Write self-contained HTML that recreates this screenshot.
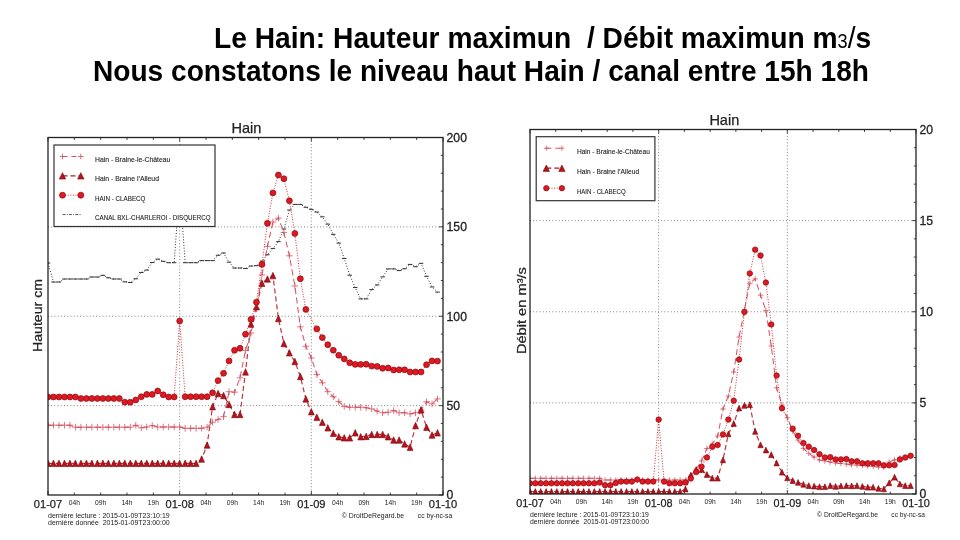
<!DOCTYPE html>
<html><head><meta charset="utf-8"><style>
html,body{margin:0;padding:0;background:#fff;}
body{width:960px;height:540px;overflow:hidden;position:relative;font-family:"Liberation Sans",sans-serif;}
.t{position:absolute;font-weight:bold;font-size:28px;color:#000;white-space:nowrap;line-height:1;}
svg{position:absolute;left:0;top:0;filter:blur(0.35px);}
svg text{font-family:"Liberation Sans",sans-serif;fill:#222;}
svg circle{fill:#e01822;stroke:#8a0c10;stroke-width:0.7;}
</style></head><body>
<div class="t" id="t1" style="left:213.5px;top:23.1px;transform:scale(1.007,1.08);transform-origin:0 0;">Le Hain: Hauteur maximun&#160; / Débit maximun m<span style="font-size:18px;font-weight:normal">3</span><span style="font-weight:normal">/</span>s</div>
<div class="t" id="t2" style="left:93px;top:56.1px;transform:scale(1.0034,1.08);transform-origin:0 0;">Nous constatons le niveau haut Hain / canal entre 15h 18h</div>
<svg width="960" height="540" viewBox="0 0 960 540">
<clipPath id="cl"><rect x="48" y="137.5" width="395" height="357.5"/></clipPath>
<path d="M179.67,137.5 V495 M311.33,137.5 V495 M48,405.62 H443 M48,316.25 H443 M48,226.88 H443" stroke="#777" stroke-width="0.9" stroke-dasharray="1 2.2" fill="none"/>
<path d="M48,137.5 v4 M48,495 v-4 M74.33,137.5 v2.5 M74.33,495 v-2.5 M100.67,137.5 v2.5 M100.67,495 v-2.5 M127,137.5 v2.5 M127,495 v-2.5 M153.33,137.5 v2.5 M153.33,495 v-2.5 M179.67,137.5 v4 M179.67,495 v-4 M206,137.5 v2.5 M206,495 v-2.5 M232.33,137.5 v2.5 M232.33,495 v-2.5 M258.67,137.5 v2.5 M258.67,495 v-2.5 M285,137.5 v2.5 M285,495 v-2.5 M311.33,137.5 v4 M311.33,495 v-4 M337.67,137.5 v2.5 M337.67,495 v-2.5 M364,137.5 v2.5 M364,495 v-2.5 M390.33,137.5 v2.5 M390.33,495 v-2.5 M416.67,137.5 v2.5 M416.67,495 v-2.5 M443,137.5 v4 M443,495 v-4 M443,495 h-4 M443,405.62 h-4 M443,316.25 h-4 M443,226.88 h-4 M443,137.5 h-4 M443,477.12 h-2.2 M443,459.25 h-2.2 M443,441.38 h-2.2 M443,423.5 h-2.2 M443,387.75 h-2.2 M443,369.88 h-2.2 M443,352 h-2.2 M443,334.12 h-2.2 M443,298.38 h-2.2 M443,280.5 h-2.2 M443,262.62 h-2.2 M443,244.75 h-2.2 M443,209 h-2.2 M443,191.12 h-2.2 M443,173.25 h-2.2 M443,155.38 h-2.2" stroke="#333" stroke-width="0.9" fill="none"/>
<g clip-path="url(#cl)">
<path d="M48,263 L53.49,282 L58.97,282 L64.46,279 L69.94,279 L75.43,279 L80.92,279 L86.4,279 L91.89,277 L97.38,277 L102.86,275.3 L108.35,277.82 L113.83,279 L119.32,279 L124.81,281.85 L130.29,282.52 L135.78,278.79 L141.26,272.46 L146.75,270.11 L152.24,262.54 L157.72,259.1 L163.21,261.34 L168.69,262.7 L174.18,262.7 L179.67,185 L185.15,262.7 L190.64,262.7 L196.12,262.7 L201.61,260.6 L207.1,260.6 L212.58,260.6 L218.07,255.25 L223.56,252.99 L229.04,262.14 L234.53,268 L240.01,268 L245.5,268.56 L250.99,266.02 L256.47,265.68 L261.96,261.05 L267.44,254.74 L272.93,248.43 L278.42,241.6 L283.9,228.98 L289.39,210.02 L294.88,204.4 L300.36,204.4 L305.85,207.26 L311.33,209.36 L316.82,212.05 L322.31,216.84 L327.79,224.13 L333.28,234.36 L338.76,243.08 L344.25,258.47 L349.74,275.17 L355.22,287.55 L360.71,298.9 L366.19,298.9 L371.68,289.51 L377.17,284.93 L382.65,276.9 L388.14,268.9 L393.62,268.9 L399.11,270.58 L404.6,268.74 L410.08,264.43 L415.57,266.69 L421.06,263.33 L426.54,276.32 L432.03,286.96 L437.51,292.11" stroke="#333" stroke-width="1" stroke-dasharray="1 1.8" fill="none"/>
<path d="M45.75,263 h4.5 M51.24,282 h4.5 M56.72,282 h4.5 M62.21,279 h4.5 M67.69,279 h4.5 M73.18,279 h4.5 M78.67,279 h4.5 M84.15,279 h4.5 M89.64,277 h4.5 M95.12,277 h4.5 M100.61,275.3 h4.5 M106.1,277.82 h4.5 M111.58,279 h4.5 M117.07,279 h4.5 M122.56,281.85 h4.5 M128.04,282.52 h4.5 M133.53,278.79 h4.5 M139.01,272.46 h4.5 M144.5,270.11 h4.5 M149.99,262.54 h4.5 M155.47,259.1 h4.5 M160.96,261.34 h4.5 M166.44,262.7 h4.5 M171.93,262.7 h4.5 M177.42,185 h4.5 M182.9,262.7 h4.5 M188.39,262.7 h4.5 M193.88,262.7 h4.5 M199.36,260.6 h4.5 M204.85,260.6 h4.5 M210.33,260.6 h4.5 M215.82,255.25 h4.5 M221.31,252.99 h4.5 M226.79,262.14 h4.5 M232.28,268 h4.5 M237.76,268 h4.5 M243.25,268.56 h4.5 M248.74,266.02 h4.5 M254.22,265.68 h4.5 M259.71,261.05 h4.5 M265.19,254.74 h4.5 M270.68,248.43 h4.5 M276.17,241.6 h4.5 M281.65,228.98 h4.5 M287.14,210.02 h4.5 M292.62,204.4 h4.5 M298.11,204.4 h4.5 M303.6,207.26 h4.5 M309.08,209.36 h4.5 M314.57,212.05 h4.5 M320.06,216.84 h4.5 M325.54,224.13 h4.5 M331.03,234.36 h4.5 M336.51,243.08 h4.5 M342,258.47 h4.5 M347.49,275.17 h4.5 M352.97,287.55 h4.5 M358.46,298.9 h4.5 M363.94,298.9 h4.5 M369.43,289.51 h4.5 M374.92,284.93 h4.5 M380.4,276.9 h4.5 M385.89,268.9 h4.5 M391.38,268.9 h4.5 M396.86,270.58 h4.5 M402.35,268.74 h4.5 M407.83,264.43 h4.5 M413.32,266.69 h4.5 M418.81,263.33 h4.5 M424.29,276.32 h4.5 M429.78,286.96 h4.5 M435.26,292.11 h4.5" stroke="#333" stroke-width="1" fill="none"/>
<path d="M48,425.2 L53.49,425.2 L58.97,425.2 L64.46,425.2 L69.94,425.2 L75.43,427.2 L80.92,427.2 L86.4,427.2 L91.89,427.2 L97.38,427.2 L102.86,427.2 L108.35,427.2 L113.83,427.2 L119.32,427.2 L124.81,427.2 L130.29,427.2 L135.78,425.3 L141.26,427.8 L146.75,427 L152.24,425.6 L157.72,427 L163.21,427 L168.69,427 L174.18,427 L179.67,427 L185.15,428.3 L190.64,428.3 L196.12,428.3 L201.61,428.3 L207.1,427.2 L212.58,422.2 L218.07,419.4 L223.56,416.7 L229.04,391.7 L234.53,392.2 L240.01,377.8 L245.5,350.4 L250.99,333 L256.47,308.75 L261.96,274.9 L267.44,246.4 L272.93,222 L278.42,218.1 L283.9,232.6 L289.39,255.8 L294.88,286 L300.36,326.8 L305.85,346.25 L311.33,358 L316.82,374.4 L322.31,382.8 L327.79,391.7 L333.28,396.7 L338.76,401.7 L344.25,406.4 L349.74,407.2 L355.22,407.2 L360.71,407.2 L366.19,407.8 L371.68,408.9 L377.17,411.1 L382.65,412.8 L388.14,412.2 L393.62,410.6 L399.11,412.8 L404.6,412.8 L410.08,413.9 L415.57,412.8 L421.06,410 L426.54,401.7 L432.03,403.9 L437.51,398.9" stroke="#dc5464" stroke-width="1.05" stroke-dasharray="6 3.5" fill="none"/>
<path d="M44.7,425.2 h6.6 M48,421.9 v6.6 M50.19,425.2 h6.6 M53.49,421.9 v6.6 M55.67,425.2 h6.6 M58.97,421.9 v6.6 M61.16,425.2 h6.6 M64.46,421.9 v6.6 M66.64,425.2 h6.6 M69.94,421.9 v6.6 M72.13,427.2 h6.6 M75.43,423.9 v6.6 M77.62,427.2 h6.6 M80.92,423.9 v6.6 M83.1,427.2 h6.6 M86.4,423.9 v6.6 M88.59,427.2 h6.6 M91.89,423.9 v6.6 M94.08,427.2 h6.6 M97.38,423.9 v6.6 M99.56,427.2 h6.6 M102.86,423.9 v6.6 M105.05,427.2 h6.6 M108.35,423.9 v6.6 M110.53,427.2 h6.6 M113.83,423.9 v6.6 M116.02,427.2 h6.6 M119.32,423.9 v6.6 M121.51,427.2 h6.6 M124.81,423.9 v6.6 M126.99,427.2 h6.6 M130.29,423.9 v6.6 M132.48,425.3 h6.6 M135.78,422 v6.6 M137.96,427.8 h6.6 M141.26,424.5 v6.6 M143.45,427 h6.6 M146.75,423.7 v6.6 M148.94,425.6 h6.6 M152.24,422.3 v6.6 M154.42,427 h6.6 M157.72,423.7 v6.6 M159.91,427 h6.6 M163.21,423.7 v6.6 M165.39,427 h6.6 M168.69,423.7 v6.6 M170.88,427 h6.6 M174.18,423.7 v6.6 M176.37,427 h6.6 M179.67,423.7 v6.6 M181.85,428.3 h6.6 M185.15,425 v6.6 M187.34,428.3 h6.6 M190.64,425 v6.6 M192.82,428.3 h6.6 M196.12,425 v6.6 M198.31,428.3 h6.6 M201.61,425 v6.6 M203.8,427.2 h6.6 M207.1,423.9 v6.6 M209.28,422.2 h6.6 M212.58,418.9 v6.6 M214.77,419.4 h6.6 M218.07,416.1 v6.6 M220.26,416.7 h6.6 M223.56,413.4 v6.6 M225.74,391.7 h6.6 M229.04,388.4 v6.6 M231.23,392.2 h6.6 M234.53,388.9 v6.6 M236.71,377.8 h6.6 M240.01,374.5 v6.6 M242.2,350.4 h6.6 M245.5,347.1 v6.6 M247.69,333 h6.6 M250.99,329.7 v6.6 M253.17,308.75 h6.6 M256.47,305.45 v6.6 M258.66,274.9 h6.6 M261.96,271.6 v6.6 M264.14,246.4 h6.6 M267.44,243.1 v6.6 M269.63,222 h6.6 M272.93,218.7 v6.6 M275.12,218.1 h6.6 M278.42,214.8 v6.6 M280.6,232.6 h6.6 M283.9,229.3 v6.6 M286.09,255.8 h6.6 M289.39,252.5 v6.6 M291.57,286 h6.6 M294.88,282.7 v6.6 M297.06,326.8 h6.6 M300.36,323.5 v6.6 M302.55,346.25 h6.6 M305.85,342.95 v6.6 M308.03,358 h6.6 M311.33,354.7 v6.6 M313.52,374.4 h6.6 M316.82,371.1 v6.6 M319.01,382.8 h6.6 M322.31,379.5 v6.6 M324.49,391.7 h6.6 M327.79,388.4 v6.6 M329.98,396.7 h6.6 M333.28,393.4 v6.6 M335.46,401.7 h6.6 M338.76,398.4 v6.6 M340.95,406.4 h6.6 M344.25,403.1 v6.6 M346.44,407.2 h6.6 M349.74,403.9 v6.6 M351.92,407.2 h6.6 M355.22,403.9 v6.6 M357.41,407.2 h6.6 M360.71,403.9 v6.6 M362.89,407.8 h6.6 M366.19,404.5 v6.6 M368.38,408.9 h6.6 M371.68,405.6 v6.6 M373.87,411.1 h6.6 M377.17,407.8 v6.6 M379.35,412.8 h6.6 M382.65,409.5 v6.6 M384.84,412.2 h6.6 M388.14,408.9 v6.6 M390.32,410.6 h6.6 M393.62,407.3 v6.6 M395.81,412.8 h6.6 M399.11,409.5 v6.6 M401.3,412.8 h6.6 M404.6,409.5 v6.6 M406.78,413.9 h6.6 M410.08,410.6 v6.6 M412.27,412.8 h6.6 M415.57,409.5 v6.6 M417.76,410 h6.6 M421.06,406.7 v6.6 M423.24,401.7 h6.6 M426.54,398.4 v6.6 M428.73,403.9 h6.6 M432.03,400.6 v6.6 M434.21,398.9 h6.6 M437.51,395.6 v6.6" stroke="#d24a5a" stroke-width="0.75" fill="none"/>
<path d="M48,463.3 L53.49,463.3 L58.97,463.3 L64.46,463.3 L69.94,463.3 L75.43,463.3 L80.92,463.3 L86.4,463.3 L91.89,463.3 L97.38,463.3 L102.86,463.3 L108.35,463.3 L113.83,463.3 L119.32,463.3 L124.81,463.3 L130.29,463.3 L135.78,463.3 L141.26,463.3 L146.75,463.3 L152.24,463.3 L157.72,463.3 L163.21,463.3 L168.69,463.3 L174.18,463.3 L179.67,463.3 L185.15,463.3 L190.64,463.3 L196.12,463.3 L201.61,459 L207.1,445 L212.58,406.7 L218.07,393.5 L223.56,395.5 L229.04,404.4 L234.53,414.4 L240.01,414.4 L245.5,371.9 L250.99,324 L256.47,306.7 L261.96,283.2 L267.44,279 L272.93,275.6 L278.42,318.5 L283.9,343.5 L289.39,352.8 L294.88,361.5 L300.36,376.5 L305.85,398.9 L311.33,411.7 L316.82,417.2 L322.31,422.2 L327.79,427.8 L333.28,433.3 L338.76,436.7 L344.25,437.8 L349.74,437.8 L355.22,432.8 L360.71,436.7 L366.19,436.4 L371.68,434.4 L377.17,434.4 L382.65,434.4 L388.14,436.7 L393.62,440 L399.11,440 L404.6,443.9 L410.08,447.2 L415.57,425.6 L421.06,409.8 L426.54,427.2 L432.03,435 L437.51,432.8" stroke="#c0343c" stroke-width="1.2" stroke-dasharray="5 3" fill="none"/>
<path d="M48,460.05 L45.08,466.55 L50.92,466.55 Z M53.49,460.05 L50.56,466.55 L56.41,466.55 Z M58.97,460.05 L56.05,466.55 L61.9,466.55 Z M64.46,460.05 L61.53,466.55 L67.38,466.55 Z M69.94,460.05 L67.02,466.55 L72.87,466.55 Z M75.43,460.05 L72.51,466.55 L78.36,466.55 Z M80.92,460.05 L77.99,466.55 L83.84,466.55 Z M86.4,460.05 L83.48,466.55 L89.33,466.55 Z M91.89,460.05 L88.96,466.55 L94.81,466.55 Z M97.38,460.05 L94.45,466.55 L100.3,466.55 Z M102.86,460.05 L99.94,466.55 L105.79,466.55 Z M108.35,460.05 L105.42,466.55 L111.27,466.55 Z M113.83,460.05 L110.91,466.55 L116.76,466.55 Z M119.32,460.05 L116.39,466.55 L122.24,466.55 Z M124.81,460.05 L121.88,466.55 L127.73,466.55 Z M130.29,460.05 L127.37,466.55 L133.22,466.55 Z M135.78,460.05 L132.85,466.55 L138.7,466.55 Z M141.26,460.05 L138.34,466.55 L144.19,466.55 Z M146.75,460.05 L143.82,466.55 L149.68,466.55 Z M152.24,460.05 L149.31,466.55 L155.16,466.55 Z M157.72,460.05 L154.8,466.55 L160.65,466.55 Z M163.21,460.05 L160.28,466.55 L166.13,466.55 Z M168.69,460.05 L165.77,466.55 L171.62,466.55 Z M174.18,460.05 L171.26,466.55 L177.11,466.55 Z M179.67,460.05 L176.74,466.55 L182.59,466.55 Z M185.15,460.05 L182.23,466.55 L188.08,466.55 Z M190.64,460.05 L187.71,466.55 L193.56,466.55 Z M196.12,460.05 L193.2,466.55 L199.05,466.55 Z M201.61,455.75 L198.69,462.25 L204.54,462.25 Z M207.1,441.75 L204.17,448.25 L210.02,448.25 Z M212.58,403.45 L209.66,409.95 L215.51,409.95 Z M218.07,390.25 L215.14,396.75 L220.99,396.75 Z M223.56,392.25 L220.63,398.75 L226.48,398.75 Z M229.04,401.15 L226.12,407.65 L231.97,407.65 Z M234.53,411.15 L231.6,417.65 L237.45,417.65 Z M240.01,411.15 L237.09,417.65 L242.94,417.65 Z M245.5,368.65 L242.57,375.15 L248.43,375.15 Z M250.99,320.75 L248.06,327.25 L253.91,327.25 Z M256.47,303.45 L253.55,309.95 L259.4,309.95 Z M261.96,279.95 L259.03,286.45 L264.88,286.45 Z M267.44,275.75 L264.52,282.25 L270.37,282.25 Z M272.93,272.35 L270.01,278.85 L275.86,278.85 Z M278.42,315.25 L275.49,321.75 L281.34,321.75 Z M283.9,340.25 L280.98,346.75 L286.83,346.75 Z M289.39,349.55 L286.46,356.05 L292.31,356.05 Z M294.88,358.25 L291.95,364.75 L297.8,364.75 Z M300.36,373.25 L297.44,379.75 L303.29,379.75 Z M305.85,395.65 L302.92,402.15 L308.77,402.15 Z M311.33,408.45 L308.41,414.95 L314.26,414.95 Z M316.82,413.95 L313.89,420.45 L319.74,420.45 Z M322.31,418.95 L319.38,425.45 L325.23,425.45 Z M327.79,424.55 L324.87,431.05 L330.72,431.05 Z M333.28,430.05 L330.35,436.55 L336.2,436.55 Z M338.76,433.45 L335.84,439.95 L341.69,439.95 Z M344.25,434.55 L341.32,441.05 L347.18,441.05 Z M349.74,434.55 L346.81,441.05 L352.66,441.05 Z M355.22,429.55 L352.3,436.05 L358.15,436.05 Z M360.71,433.45 L357.78,439.95 L363.63,439.95 Z M366.19,433.15 L363.27,439.65 L369.12,439.65 Z M371.68,431.15 L368.76,437.65 L374.61,437.65 Z M377.17,431.15 L374.24,437.65 L380.09,437.65 Z M382.65,431.15 L379.73,437.65 L385.58,437.65 Z M388.14,433.45 L385.21,439.95 L391.06,439.95 Z M393.62,436.75 L390.7,443.25 L396.55,443.25 Z M399.11,436.75 L396.19,443.25 L402.04,443.25 Z M404.6,440.65 L401.67,447.15 L407.52,447.15 Z M410.08,443.95 L407.16,450.45 L413.01,450.45 Z M415.57,422.35 L412.64,428.85 L418.49,428.85 Z M421.06,406.55 L418.13,413.05 L423.98,413.05 Z M426.54,423.95 L423.62,430.45 L429.47,430.45 Z M432.03,431.75 L429.1,438.25 L434.95,438.25 Z M437.51,429.55 L434.59,436.05 L440.44,436.05 Z" fill="#b8121c" stroke="#7a0a0e" stroke-width="0.6"/>
<path d="M48,397 L53.49,397 L58.97,397 L64.46,397 L69.94,397 L75.43,397 L80.92,398.5 L86.4,398.5 L91.89,398.5 L97.38,398.5 L102.86,398.5 L108.35,398.5 L113.83,398.5 L119.32,398.5 L124.81,402.2 L130.29,402.2 L135.78,400 L141.26,396.7 L146.75,394.4 L152.24,394.4 L157.72,391 L163.21,394.8 L168.69,397 L174.18,397 L179.67,321 L185.15,396.7 L190.64,396.7 L196.12,396.7 L201.61,396.7 L207.1,396.7 L212.58,392.8 L218.07,380.6 L223.56,373.3 L229.04,360.9 L234.53,350.3 L240.01,348.3 L245.5,334.2 L250.99,319.4 L256.47,302.2 L261.96,264.4 L267.44,223.3 L272.93,192.9 L278.42,175 L283.9,178.75 L289.39,200.8 L294.88,233.5 L300.36,278.75 L305.85,309.4 L316.82,328.9 L322.31,337.6 L327.79,344.7 L333.28,350.2 L338.76,355.3 L344.25,358.9 L349.74,362.8 L355.22,364.4 L360.71,364.4 L366.19,364.2 L371.68,366.1 L377.17,366.4 L382.65,368.3 L388.14,368 L393.62,370 L399.11,369.8 L404.6,369.8 L410.08,372 L415.57,372 L421.06,372 L426.54,364.7 L432.03,360.9 L437.51,361.1" stroke="#e02a30" stroke-width="1" stroke-dasharray="1 1.6" fill="none"/>
<circle cx="48" cy="397" r="2.95"/>
<circle cx="53.49" cy="397" r="2.95"/>
<circle cx="58.97" cy="397" r="2.95"/>
<circle cx="64.46" cy="397" r="2.95"/>
<circle cx="69.94" cy="397" r="2.95"/>
<circle cx="75.43" cy="397" r="2.95"/>
<circle cx="80.92" cy="398.5" r="2.95"/>
<circle cx="86.4" cy="398.5" r="2.95"/>
<circle cx="91.89" cy="398.5" r="2.95"/>
<circle cx="97.38" cy="398.5" r="2.95"/>
<circle cx="102.86" cy="398.5" r="2.95"/>
<circle cx="108.35" cy="398.5" r="2.95"/>
<circle cx="113.83" cy="398.5" r="2.95"/>
<circle cx="119.32" cy="398.5" r="2.95"/>
<circle cx="124.81" cy="402.2" r="2.95"/>
<circle cx="130.29" cy="402.2" r="2.95"/>
<circle cx="135.78" cy="400" r="2.95"/>
<circle cx="141.26" cy="396.7" r="2.95"/>
<circle cx="146.75" cy="394.4" r="2.95"/>
<circle cx="152.24" cy="394.4" r="2.95"/>
<circle cx="157.72" cy="391" r="2.95"/>
<circle cx="163.21" cy="394.8" r="2.95"/>
<circle cx="168.69" cy="397" r="2.95"/>
<circle cx="174.18" cy="397" r="2.95"/>
<circle cx="179.67" cy="321" r="2.95"/>
<circle cx="185.15" cy="396.7" r="2.95"/>
<circle cx="190.64" cy="396.7" r="2.95"/>
<circle cx="196.12" cy="396.7" r="2.95"/>
<circle cx="201.61" cy="396.7" r="2.95"/>
<circle cx="207.1" cy="396.7" r="2.95"/>
<circle cx="212.58" cy="392.8" r="2.95"/>
<circle cx="218.07" cy="380.6" r="2.95"/>
<circle cx="223.56" cy="373.3" r="2.95"/>
<circle cx="229.04" cy="360.9" r="2.95"/>
<circle cx="234.53" cy="350.3" r="2.95"/>
<circle cx="240.01" cy="348.3" r="2.95"/>
<circle cx="245.5" cy="334.2" r="2.95"/>
<circle cx="250.99" cy="319.4" r="2.95"/>
<circle cx="256.47" cy="302.2" r="2.95"/>
<circle cx="261.96" cy="264.4" r="2.95"/>
<circle cx="267.44" cy="223.3" r="2.95"/>
<circle cx="272.93" cy="192.9" r="2.95"/>
<circle cx="278.42" cy="175" r="2.95"/>
<circle cx="283.9" cy="178.75" r="2.95"/>
<circle cx="289.39" cy="200.8" r="2.95"/>
<circle cx="294.88" cy="233.5" r="2.95"/>
<circle cx="300.36" cy="278.75" r="2.95"/>
<circle cx="305.85" cy="309.4" r="2.95"/>
<circle cx="316.82" cy="328.9" r="2.95"/>
<circle cx="322.31" cy="337.6" r="2.95"/>
<circle cx="327.79" cy="344.7" r="2.95"/>
<circle cx="333.28" cy="350.2" r="2.95"/>
<circle cx="338.76" cy="355.3" r="2.95"/>
<circle cx="344.25" cy="358.9" r="2.95"/>
<circle cx="349.74" cy="362.8" r="2.95"/>
<circle cx="355.22" cy="364.4" r="2.95"/>
<circle cx="360.71" cy="364.4" r="2.95"/>
<circle cx="366.19" cy="364.2" r="2.95"/>
<circle cx="371.68" cy="366.1" r="2.95"/>
<circle cx="377.17" cy="366.4" r="2.95"/>
<circle cx="382.65" cy="368.3" r="2.95"/>
<circle cx="388.14" cy="368" r="2.95"/>
<circle cx="393.62" cy="370" r="2.95"/>
<circle cx="399.11" cy="369.8" r="2.95"/>
<circle cx="404.6" cy="369.8" r="2.95"/>
<circle cx="410.08" cy="372" r="2.95"/>
<circle cx="415.57" cy="372" r="2.95"/>
<circle cx="421.06" cy="372" r="2.95"/>
<circle cx="426.54" cy="364.7" r="2.95"/>
<circle cx="432.03" cy="360.9" r="2.95"/>
<circle cx="437.51" cy="361.1" r="2.95"/>
</g>
<rect x="48" y="137.5" width="395" height="357.5" fill="none" stroke="#222" stroke-width="1.3"/>
<clipPath id="cr"><rect x="530" y="129.5" width="386" height="364.5"/></clipPath>
<path d="M658.67,129.5 V494 M787.33,129.5 V494 M530,402.88 H916 M530,311.75 H916 M530,220.62 H916" stroke="#777" stroke-width="0.9" stroke-dasharray="1 2.2" fill="none"/>
<path d="M530,129.5 v4 M530,494 v-4 M555.73,129.5 v2.5 M555.73,494 v-2.5 M581.47,129.5 v2.5 M581.47,494 v-2.5 M607.2,129.5 v2.5 M607.2,494 v-2.5 M632.93,129.5 v2.5 M632.93,494 v-2.5 M658.67,129.5 v4 M658.67,494 v-4 M684.4,129.5 v2.5 M684.4,494 v-2.5 M710.13,129.5 v2.5 M710.13,494 v-2.5 M735.87,129.5 v2.5 M735.87,494 v-2.5 M761.6,129.5 v2.5 M761.6,494 v-2.5 M787.33,129.5 v4 M787.33,494 v-4 M813.07,129.5 v2.5 M813.07,494 v-2.5 M838.8,129.5 v2.5 M838.8,494 v-2.5 M864.53,129.5 v2.5 M864.53,494 v-2.5 M890.27,129.5 v2.5 M890.27,494 v-2.5 M916,129.5 v4 M916,494 v-4 M916,494 h-4 M916,402.88 h-4 M916,311.75 h-4 M916,220.62 h-4 M916,129.5 h-4 M916,475.77 h-2.2 M916,457.55 h-2.2 M916,439.32 h-2.2 M916,421.1 h-2.2 M916,384.65 h-2.2 M916,366.43 h-2.2 M916,348.2 h-2.2 M916,329.98 h-2.2 M916,293.52 h-2.2 M916,275.3 h-2.2 M916,257.07 h-2.2 M916,238.85 h-2.2 M916,202.4 h-2.2 M916,184.18 h-2.2 M916,165.95 h-2.2 M916,147.73 h-2.2" stroke="#333" stroke-width="0.9" fill="none"/>
<g clip-path="url(#cr)">
<path d="M530,478.3 L535.36,478.3 L540.72,478.3 L546.08,478.3 L551.44,478.3 L556.81,478.3 L562.17,478.3 L567.53,478.3 L572.89,478.3 L578.25,478.3 L583.61,478.3 L588.97,478.3 L594.33,478.3 L599.69,478.3 L605.06,480 L610.42,480 L615.78,480 L621.14,480 L626.5,480 L631.86,480 L637.22,480 L642.58,480 L647.94,480 L653.31,480 L658.67,480 L664.03,480 L669.39,480 L674.75,480 L680.11,480 L685.47,480 L690.83,476 L696.19,469 L701.56,461 L706.92,448.5 L712.28,444 L717.64,436 L723,409 L728.36,396 L733.72,372 L739.08,337 L744.44,310 L749.81,283.3 L755.17,278.9 L760.53,295.2 L765.89,310.4 L771.25,346 L776.61,387.8 L781.97,405 L787.33,417.8 L792.69,431 L798.06,440 L803.42,448.3 L808.78,453.3 L814.14,457.2 L819.5,460 L824.86,461 L830.22,462 L835.58,463 L840.94,463.5 L846.31,464 L851.67,465 L857.03,465 L862.39,465.5 L867.75,466 L873.11,466.5 L878.47,467 L883.83,467.5 L889.19,462 L894.56,460 L899.92,458" stroke="#dc5464" stroke-width="1.05" stroke-dasharray="6 3.5" fill="none"/>
<path d="M527.3,478.3 h5.4 M530,475.6 v5.4 M532.66,478.3 h5.4 M535.36,475.6 v5.4 M538.02,478.3 h5.4 M540.72,475.6 v5.4 M543.38,478.3 h5.4 M546.08,475.6 v5.4 M548.74,478.3 h5.4 M551.44,475.6 v5.4 M554.11,478.3 h5.4 M556.81,475.6 v5.4 M559.47,478.3 h5.4 M562.17,475.6 v5.4 M564.83,478.3 h5.4 M567.53,475.6 v5.4 M570.19,478.3 h5.4 M572.89,475.6 v5.4 M575.55,478.3 h5.4 M578.25,475.6 v5.4 M580.91,478.3 h5.4 M583.61,475.6 v5.4 M586.27,478.3 h5.4 M588.97,475.6 v5.4 M591.63,478.3 h5.4 M594.33,475.6 v5.4 M596.99,478.3 h5.4 M599.69,475.6 v5.4 M602.36,480 h5.4 M605.06,477.3 v5.4 M607.72,480 h5.4 M610.42,477.3 v5.4 M613.08,480 h5.4 M615.78,477.3 v5.4 M618.44,480 h5.4 M621.14,477.3 v5.4 M623.8,480 h5.4 M626.5,477.3 v5.4 M629.16,480 h5.4 M631.86,477.3 v5.4 M634.52,480 h5.4 M637.22,477.3 v5.4 M639.88,480 h5.4 M642.58,477.3 v5.4 M645.24,480 h5.4 M647.94,477.3 v5.4 M650.61,480 h5.4 M653.31,477.3 v5.4 M655.97,480 h5.4 M658.67,477.3 v5.4 M661.33,480 h5.4 M664.03,477.3 v5.4 M666.69,480 h5.4 M669.39,477.3 v5.4 M672.05,480 h5.4 M674.75,477.3 v5.4 M677.41,480 h5.4 M680.11,477.3 v5.4 M682.77,480 h5.4 M685.47,477.3 v5.4 M688.13,476 h5.4 M690.83,473.3 v5.4 M693.49,469 h5.4 M696.19,466.3 v5.4 M698.86,461 h5.4 M701.56,458.3 v5.4 M704.22,448.5 h5.4 M706.92,445.8 v5.4 M709.58,444 h5.4 M712.28,441.3 v5.4 M714.94,436 h5.4 M717.64,433.3 v5.4 M720.3,409 h5.4 M723,406.3 v5.4 M725.66,396 h5.4 M728.36,393.3 v5.4 M731.02,372 h5.4 M733.72,369.3 v5.4 M736.38,337 h5.4 M739.08,334.3 v5.4 M741.74,310 h5.4 M744.44,307.3 v5.4 M747.11,283.3 h5.4 M749.81,280.6 v5.4 M752.47,278.9 h5.4 M755.17,276.2 v5.4 M757.83,295.2 h5.4 M760.53,292.5 v5.4 M763.19,310.4 h5.4 M765.89,307.7 v5.4 M768.55,346 h5.4 M771.25,343.3 v5.4 M773.91,387.8 h5.4 M776.61,385.1 v5.4 M779.27,405 h5.4 M781.97,402.3 v5.4 M784.63,417.8 h5.4 M787.33,415.1 v5.4 M789.99,431 h5.4 M792.69,428.3 v5.4 M795.36,440 h5.4 M798.06,437.3 v5.4 M800.72,448.3 h5.4 M803.42,445.6 v5.4 M806.08,453.3 h5.4 M808.78,450.6 v5.4 M811.44,457.2 h5.4 M814.14,454.5 v5.4 M816.8,460 h5.4 M819.5,457.3 v5.4 M822.16,461 h5.4 M824.86,458.3 v5.4 M827.52,462 h5.4 M830.22,459.3 v5.4 M832.88,463 h5.4 M835.58,460.3 v5.4 M838.24,463.5 h5.4 M840.94,460.8 v5.4 M843.61,464 h5.4 M846.31,461.3 v5.4 M848.97,465 h5.4 M851.67,462.3 v5.4 M854.33,465 h5.4 M857.03,462.3 v5.4 M859.69,465.5 h5.4 M862.39,462.8 v5.4 M865.05,466 h5.4 M867.75,463.3 v5.4 M870.41,466.5 h5.4 M873.11,463.8 v5.4 M875.77,467 h5.4 M878.47,464.3 v5.4 M881.13,467.5 h5.4 M883.83,464.8 v5.4 M886.49,462 h5.4 M889.19,459.3 v5.4 M891.86,460 h5.4 M894.56,457.3 v5.4 M897.22,458 h5.4 M899.92,455.3 v5.4" stroke="#d24a5a" stroke-width="0.75" fill="none"/>
<path d="M530,491.5 L535.36,491.5 L540.72,491.5 L546.08,491.5 L551.44,491.5 L556.81,491.5 L562.17,491.5 L567.53,491.5 L572.89,491.5 L578.25,491.5 L583.61,491.5 L588.97,491.5 L594.33,491.5 L599.69,491.5 L605.06,491.5 L610.42,491.5 L615.78,491.5 L621.14,491.5 L626.5,491.5 L631.86,491.5 L637.22,491.5 L642.58,491.5 L647.94,491.5 L653.31,491.5 L658.67,491.5 L664.03,491.5 L669.39,491.5 L674.75,491.5 L680.11,491.5 L685.47,489 L690.83,475 L696.19,469.7 L701.56,469.7 L706.92,474.5 L712.28,478.1 L717.64,478.1 L723,459.8 L728.36,433.9 L733.72,423.5 L739.08,408 L744.44,405.4 L749.81,404.6 L755.17,431.4 L760.53,444.8 L765.89,450 L771.25,454.6 L776.61,463 L781.97,472.2 L787.33,477.8 L792.69,480.6 L798.06,482.4 L803.42,484.3 L808.78,485.6 L814.14,486.1 L819.5,486.7 L824.86,486.7 L830.22,485.6 L835.58,486.4 L840.94,485.8 L846.31,485.6 L851.67,485.8 L857.03,485.6 L862.39,486.4 L867.75,487.2 L873.11,487.2 L878.47,488.3 L883.83,488.9 L889.19,482.8 L894.56,477.2 L899.92,483.9 L905.28,485.6 L910.64,485.6" stroke="#c0343c" stroke-width="1.2" stroke-dasharray="5 3" fill="none"/>
<path d="M530,488.6 L527.39,494.4 L532.61,494.4 Z M535.36,488.6 L532.75,494.4 L537.97,494.4 Z M540.72,488.6 L538.11,494.4 L543.33,494.4 Z M546.08,488.6 L543.47,494.4 L548.69,494.4 Z M551.44,488.6 L548.83,494.4 L554.05,494.4 Z M556.81,488.6 L554.2,494.4 L559.42,494.4 Z M562.17,488.6 L559.56,494.4 L564.78,494.4 Z M567.53,488.6 L564.92,494.4 L570.14,494.4 Z M572.89,488.6 L570.28,494.4 L575.5,494.4 Z M578.25,488.6 L575.64,494.4 L580.86,494.4 Z M583.61,488.6 L581,494.4 L586.22,494.4 Z M588.97,488.6 L586.36,494.4 L591.58,494.4 Z M594.33,488.6 L591.72,494.4 L596.94,494.4 Z M599.69,488.6 L597.08,494.4 L602.3,494.4 Z M605.06,488.6 L602.45,494.4 L607.67,494.4 Z M610.42,488.6 L607.81,494.4 L613.03,494.4 Z M615.78,488.6 L613.17,494.4 L618.39,494.4 Z M621.14,488.6 L618.53,494.4 L623.75,494.4 Z M626.5,488.6 L623.89,494.4 L629.11,494.4 Z M631.86,488.6 L629.25,494.4 L634.47,494.4 Z M637.22,488.6 L634.61,494.4 L639.83,494.4 Z M642.58,488.6 L639.97,494.4 L645.19,494.4 Z M647.94,488.6 L645.33,494.4 L650.55,494.4 Z M653.31,488.6 L650.7,494.4 L655.92,494.4 Z M658.67,488.6 L656.06,494.4 L661.28,494.4 Z M664.03,488.6 L661.42,494.4 L666.64,494.4 Z M669.39,488.6 L666.78,494.4 L672,494.4 Z M674.75,488.6 L672.14,494.4 L677.36,494.4 Z M680.11,488.6 L677.5,494.4 L682.72,494.4 Z M685.47,486.1 L682.86,491.9 L688.08,491.9 Z M690.83,472.1 L688.22,477.9 L693.44,477.9 Z M696.19,466.8 L693.58,472.6 L698.8,472.6 Z M701.56,466.8 L698.95,472.6 L704.17,472.6 Z M706.92,471.6 L704.31,477.4 L709.53,477.4 Z M712.28,475.2 L709.67,481 L714.89,481 Z M717.64,475.2 L715.03,481 L720.25,481 Z M723,456.9 L720.39,462.7 L725.61,462.7 Z M728.36,431 L725.75,436.8 L730.97,436.8 Z M733.72,420.6 L731.11,426.4 L736.33,426.4 Z M739.08,405.1 L736.47,410.9 L741.69,410.9 Z M744.44,402.5 L741.83,408.3 L747.05,408.3 Z M749.81,401.7 L747.2,407.5 L752.42,407.5 Z M755.17,428.5 L752.56,434.3 L757.78,434.3 Z M760.53,441.9 L757.92,447.7 L763.14,447.7 Z M765.89,447.1 L763.28,452.9 L768.5,452.9 Z M771.25,451.7 L768.64,457.5 L773.86,457.5 Z M776.61,460.1 L774,465.9 L779.22,465.9 Z M781.97,469.3 L779.36,475.1 L784.58,475.1 Z M787.33,474.9 L784.72,480.7 L789.94,480.7 Z M792.69,477.7 L790.08,483.5 L795.3,483.5 Z M798.06,479.5 L795.45,485.3 L800.67,485.3 Z M803.42,481.4 L800.81,487.2 L806.03,487.2 Z M808.78,482.7 L806.17,488.5 L811.39,488.5 Z M814.14,483.2 L811.53,489 L816.75,489 Z M819.5,483.8 L816.89,489.6 L822.11,489.6 Z M824.86,483.8 L822.25,489.6 L827.47,489.6 Z M830.22,482.7 L827.61,488.5 L832.83,488.5 Z M835.58,483.5 L832.97,489.3 L838.19,489.3 Z M840.94,482.9 L838.33,488.7 L843.55,488.7 Z M846.31,482.7 L843.7,488.5 L848.92,488.5 Z M851.67,482.9 L849.06,488.7 L854.28,488.7 Z M857.03,482.7 L854.42,488.5 L859.64,488.5 Z M862.39,483.5 L859.78,489.3 L865,489.3 Z M867.75,484.3 L865.14,490.1 L870.36,490.1 Z M873.11,484.3 L870.5,490.1 L875.72,490.1 Z M878.47,485.4 L875.86,491.2 L881.08,491.2 Z M883.83,486 L881.22,491.8 L886.44,491.8 Z M889.19,479.9 L886.58,485.7 L891.8,485.7 Z M894.56,474.3 L891.95,480.1 L897.17,480.1 Z M899.92,481 L897.31,486.8 L902.53,486.8 Z M905.28,482.7 L902.67,488.5 L907.89,488.5 Z M910.64,482.7 L908.03,488.5 L913.25,488.5 Z" fill="#b8121c" stroke="#7a0a0e" stroke-width="0.6"/>
<path d="M530,483.3 L535.36,483.3 L540.72,483.3 L546.08,483.3 L551.44,483.3 L556.81,483.3 L562.17,483.3 L567.53,483.3 L572.89,483.3 L578.25,483.3 L583.61,483.3 L588.97,483.3 L594.33,483.3 L599.69,482.6 L605.06,485.2 L610.42,485.2 L615.78,483.1 L621.14,481.6 L626.5,481.6 L631.86,481.6 L637.22,479.5 L642.58,481.6 L647.94,481.6 L653.31,481.6 L658.67,419.6 L664.03,481.6 L669.39,483.3 L674.75,483.3 L680.11,483.3 L685.47,482.5 L690.83,478.5 L696.19,472.1 L701.56,466.7 L706.92,457.4 L712.28,446.8 L717.64,445 L723,434.4 L728.36,419.6 L733.72,400.7 L739.08,359.5 L744.44,311.9 L749.81,273.4 L755.17,249.7 L760.53,255.5 L765.89,282.6 L771.25,324.4 L776.61,375.6 L781.97,408.3 L792.69,428.7 L798.06,435.8 L803.42,443.1 L808.78,446.7 L814.14,450 L819.5,454.2 L824.86,457.5 L830.22,457.2 L835.58,459.4 L840.94,459.4 L846.31,459.1 L851.67,461.3 L857.03,461.3 L862.39,463.3 L867.75,463.3 L873.11,463.3 L878.47,463.3 L883.83,465.3 L889.19,465.3 L894.56,465 L899.92,459.4 L905.28,457.6 L910.64,455.8" stroke="#e02a30" stroke-width="1" stroke-dasharray="1 1.6" fill="none"/>
<circle cx="530" cy="483.3" r="2.75"/>
<circle cx="535.36" cy="483.3" r="2.75"/>
<circle cx="540.72" cy="483.3" r="2.75"/>
<circle cx="546.08" cy="483.3" r="2.75"/>
<circle cx="551.44" cy="483.3" r="2.75"/>
<circle cx="556.81" cy="483.3" r="2.75"/>
<circle cx="562.17" cy="483.3" r="2.75"/>
<circle cx="567.53" cy="483.3" r="2.75"/>
<circle cx="572.89" cy="483.3" r="2.75"/>
<circle cx="578.25" cy="483.3" r="2.75"/>
<circle cx="583.61" cy="483.3" r="2.75"/>
<circle cx="588.97" cy="483.3" r="2.75"/>
<circle cx="594.33" cy="483.3" r="2.75"/>
<circle cx="599.69" cy="482.6" r="2.75"/>
<circle cx="605.06" cy="485.2" r="2.75"/>
<circle cx="610.42" cy="485.2" r="2.75"/>
<circle cx="615.78" cy="483.1" r="2.75"/>
<circle cx="621.14" cy="481.6" r="2.75"/>
<circle cx="626.5" cy="481.6" r="2.75"/>
<circle cx="631.86" cy="481.6" r="2.75"/>
<circle cx="637.22" cy="479.5" r="2.75"/>
<circle cx="642.58" cy="481.6" r="2.75"/>
<circle cx="647.94" cy="481.6" r="2.75"/>
<circle cx="653.31" cy="481.6" r="2.75"/>
<circle cx="658.67" cy="419.6" r="2.75"/>
<circle cx="664.03" cy="481.6" r="2.75"/>
<circle cx="669.39" cy="483.3" r="2.75"/>
<circle cx="674.75" cy="483.3" r="2.75"/>
<circle cx="680.11" cy="483.3" r="2.75"/>
<circle cx="685.47" cy="482.5" r="2.75"/>
<circle cx="690.83" cy="478.5" r="2.75"/>
<circle cx="696.19" cy="472.1" r="2.75"/>
<circle cx="701.56" cy="466.7" r="2.75"/>
<circle cx="706.92" cy="457.4" r="2.75"/>
<circle cx="712.28" cy="446.8" r="2.75"/>
<circle cx="717.64" cy="445" r="2.75"/>
<circle cx="723" cy="434.4" r="2.75"/>
<circle cx="728.36" cy="419.6" r="2.75"/>
<circle cx="733.72" cy="400.7" r="2.75"/>
<circle cx="739.08" cy="359.5" r="2.75"/>
<circle cx="744.44" cy="311.9" r="2.75"/>
<circle cx="749.81" cy="273.4" r="2.75"/>
<circle cx="755.17" cy="249.7" r="2.75"/>
<circle cx="760.53" cy="255.5" r="2.75"/>
<circle cx="765.89" cy="282.6" r="2.75"/>
<circle cx="771.25" cy="324.4" r="2.75"/>
<circle cx="776.61" cy="375.6" r="2.75"/>
<circle cx="781.97" cy="408.3" r="2.75"/>
<circle cx="792.69" cy="428.7" r="2.75"/>
<circle cx="798.06" cy="435.8" r="2.75"/>
<circle cx="803.42" cy="443.1" r="2.75"/>
<circle cx="808.78" cy="446.7" r="2.75"/>
<circle cx="814.14" cy="450" r="2.75"/>
<circle cx="819.5" cy="454.2" r="2.75"/>
<circle cx="824.86" cy="457.5" r="2.75"/>
<circle cx="830.22" cy="457.2" r="2.75"/>
<circle cx="835.58" cy="459.4" r="2.75"/>
<circle cx="840.94" cy="459.4" r="2.75"/>
<circle cx="846.31" cy="459.1" r="2.75"/>
<circle cx="851.67" cy="461.3" r="2.75"/>
<circle cx="857.03" cy="461.3" r="2.75"/>
<circle cx="862.39" cy="463.3" r="2.75"/>
<circle cx="867.75" cy="463.3" r="2.75"/>
<circle cx="873.11" cy="463.3" r="2.75"/>
<circle cx="878.47" cy="463.3" r="2.75"/>
<circle cx="883.83" cy="465.3" r="2.75"/>
<circle cx="889.19" cy="465.3" r="2.75"/>
<circle cx="894.56" cy="465" r="2.75"/>
<circle cx="899.92" cy="459.4" r="2.75"/>
<circle cx="905.28" cy="457.6" r="2.75"/>
<circle cx="910.64" cy="455.8" r="2.75"/>
</g>
<rect x="530" y="129.5" width="386" height="364.5" fill="none" stroke="#222" stroke-width="1.3"/>
<text x="446.6" y="499.4" font-size="12.2" stroke="#222" stroke-width="0.3">0</text>
<text x="446.6" y="410.02" font-size="12.2" stroke="#222" stroke-width="0.3">50</text>
<text x="446.6" y="320.65" font-size="12.2" stroke="#222" stroke-width="0.3">100</text>
<text x="446.6" y="231.28" font-size="12.2" stroke="#222" stroke-width="0.3">150</text>
<text x="446.6" y="141.9" font-size="12.2" stroke="#222" stroke-width="0.3">200</text>
<text x="48" y="508" font-size="11.8" text-anchor="middle" stroke="#222" stroke-width="0.25" textLength="28.4" lengthAdjust="spacingAndGlyphs">01-07</text>
<text x="74.33" y="505.3" font-size="7.3" text-anchor="middle" textLength="11.2" lengthAdjust="spacingAndGlyphs">04h</text>
<text x="100.67" y="505.3" font-size="7.3" text-anchor="middle" textLength="11.2" lengthAdjust="spacingAndGlyphs">09h</text>
<text x="127" y="505.3" font-size="7.3" text-anchor="middle" textLength="11.2" lengthAdjust="spacingAndGlyphs">14h</text>
<text x="153.33" y="505.3" font-size="7.3" text-anchor="middle" textLength="11.2" lengthAdjust="spacingAndGlyphs">19h</text>
<text x="179.67" y="508" font-size="11.8" text-anchor="middle" stroke="#222" stroke-width="0.25" textLength="28.4" lengthAdjust="spacingAndGlyphs">01-08</text>
<text x="206" y="505.3" font-size="7.3" text-anchor="middle" textLength="11.2" lengthAdjust="spacingAndGlyphs">04h</text>
<text x="232.33" y="505.3" font-size="7.3" text-anchor="middle" textLength="11.2" lengthAdjust="spacingAndGlyphs">09h</text>
<text x="258.67" y="505.3" font-size="7.3" text-anchor="middle" textLength="11.2" lengthAdjust="spacingAndGlyphs">14h</text>
<text x="285" y="505.3" font-size="7.3" text-anchor="middle" textLength="11.2" lengthAdjust="spacingAndGlyphs">19h</text>
<text x="311.33" y="508" font-size="11.8" text-anchor="middle" stroke="#222" stroke-width="0.25" textLength="28.4" lengthAdjust="spacingAndGlyphs">01-09</text>
<text x="337.67" y="505.3" font-size="7.3" text-anchor="middle" textLength="11.2" lengthAdjust="spacingAndGlyphs">04h</text>
<text x="364" y="505.3" font-size="7.3" text-anchor="middle" textLength="11.2" lengthAdjust="spacingAndGlyphs">09h</text>
<text x="390.33" y="505.3" font-size="7.3" text-anchor="middle" textLength="11.2" lengthAdjust="spacingAndGlyphs">14h</text>
<text x="416.67" y="505.3" font-size="7.3" text-anchor="middle" textLength="11.2" lengthAdjust="spacingAndGlyphs">19h</text>
<text x="443" y="508" font-size="11.8" text-anchor="middle" stroke="#222" stroke-width="0.25" textLength="28.4" lengthAdjust="spacingAndGlyphs">01-10</text>
<text x="246.4" y="132.5" font-size="14.5" text-anchor="middle" stroke="#222" stroke-width="0.25">Hain</text>
<text transform="translate(42,315.5) rotate(-90)" font-size="12.5" stroke="#222" stroke-width="0.25" text-anchor="middle" textLength="73" lengthAdjust="spacingAndGlyphs">Hauteur cm</text>
<text x="48" y="518" font-size="6.8" fill="#333" textLength="121.7" lengthAdjust="spacingAndGlyphs">dernière lecture : 2015-01-09T23:10:19</text>
<text x="48" y="524.5" font-size="6.8" fill="#333" textLength="121.7" lengthAdjust="spacingAndGlyphs">dernière donnée&#160; 2015-01-09T23:00:00</text>
<text x="341.8" y="518" font-size="6.8" fill="#333" textLength="62.4" lengthAdjust="spacingAndGlyphs">© DroitDeRegard.be</text>
<text x="417.8" y="518" font-size="6.8" fill="#333" textLength="34.4" lengthAdjust="spacingAndGlyphs">cc by-nc-sa</text>
<text x="919.6" y="498.4" font-size="12.2" stroke="#222" stroke-width="0.3">0</text>
<text x="919.6" y="407.27" font-size="12.2" stroke="#222" stroke-width="0.3">5</text>
<text x="919.6" y="316.15" font-size="12.2" stroke="#222" stroke-width="0.3">10</text>
<text x="919.6" y="225.03" font-size="12.2" stroke="#222" stroke-width="0.3">15</text>
<text x="919.6" y="133.9" font-size="12.2" stroke="#222" stroke-width="0.3">20</text>
<text x="530" y="507" font-size="11.8" text-anchor="middle" stroke="#222" stroke-width="0.25" textLength="27.75" lengthAdjust="spacingAndGlyphs">01-07</text>
<text x="555.73" y="504.3" font-size="7.3" text-anchor="middle" textLength="11.2" lengthAdjust="spacingAndGlyphs">04h</text>
<text x="581.47" y="504.3" font-size="7.3" text-anchor="middle" textLength="11.2" lengthAdjust="spacingAndGlyphs">09h</text>
<text x="607.2" y="504.3" font-size="7.3" text-anchor="middle" textLength="11.2" lengthAdjust="spacingAndGlyphs">14h</text>
<text x="632.93" y="504.3" font-size="7.3" text-anchor="middle" textLength="11.2" lengthAdjust="spacingAndGlyphs">19h</text>
<text x="658.67" y="507" font-size="11.8" text-anchor="middle" stroke="#222" stroke-width="0.25" textLength="27.75" lengthAdjust="spacingAndGlyphs">01-08</text>
<text x="684.4" y="504.3" font-size="7.3" text-anchor="middle" textLength="11.2" lengthAdjust="spacingAndGlyphs">04h</text>
<text x="710.13" y="504.3" font-size="7.3" text-anchor="middle" textLength="11.2" lengthAdjust="spacingAndGlyphs">09h</text>
<text x="735.87" y="504.3" font-size="7.3" text-anchor="middle" textLength="11.2" lengthAdjust="spacingAndGlyphs">14h</text>
<text x="761.6" y="504.3" font-size="7.3" text-anchor="middle" textLength="11.2" lengthAdjust="spacingAndGlyphs">19h</text>
<text x="787.33" y="507" font-size="11.8" text-anchor="middle" stroke="#222" stroke-width="0.25" textLength="27.75" lengthAdjust="spacingAndGlyphs">01-09</text>
<text x="813.07" y="504.3" font-size="7.3" text-anchor="middle" textLength="11.2" lengthAdjust="spacingAndGlyphs">04h</text>
<text x="838.8" y="504.3" font-size="7.3" text-anchor="middle" textLength="11.2" lengthAdjust="spacingAndGlyphs">09h</text>
<text x="864.53" y="504.3" font-size="7.3" text-anchor="middle" textLength="11.2" lengthAdjust="spacingAndGlyphs">14h</text>
<text x="890.27" y="504.3" font-size="7.3" text-anchor="middle" textLength="11.2" lengthAdjust="spacingAndGlyphs">19h</text>
<text x="916" y="507" font-size="11.8" text-anchor="middle" stroke="#222" stroke-width="0.25" textLength="27.75" lengthAdjust="spacingAndGlyphs">01-10</text>
<text x="724.3" y="124.8" font-size="14.5" text-anchor="middle" stroke="#222" stroke-width="0.25">Hain</text>
<text transform="translate(525.5,310.6) rotate(-90)" font-size="12.5" stroke="#222" stroke-width="0.25" text-anchor="middle" textLength="87" lengthAdjust="spacingAndGlyphs">Débit en m³/s</text>
<text x="530" y="517" font-size="6.8" fill="#333" textLength="118.93" lengthAdjust="spacingAndGlyphs">dernière lecture : 2015-01-09T23:10:19</text>
<text x="530" y="523.5" font-size="6.8" fill="#333" textLength="118.93" lengthAdjust="spacingAndGlyphs">dernière donnée&#160; 2015-01-09T23:00:00</text>
<text x="817.11" y="517" font-size="6.8" fill="#333" textLength="60.98" lengthAdjust="spacingAndGlyphs">© DroitDeRegard.be</text>
<text x="891.37" y="517" font-size="6.8" fill="#333" textLength="33.62" lengthAdjust="spacingAndGlyphs">cc by-nc-sa</text>
<rect x="54" y="145" width="161" height="81.5" fill="#fff" stroke="#333" stroke-width="1.2"/>
<path d="M62.5,156.5 H80.8" stroke="#dc5464" stroke-width="1.05" stroke-dasharray="5 4"/>
<path d="M59.7,156.5 h5.6 M62.5,153.7 v5.6" stroke="#d24a5a" stroke-width="0.8"/>
<path d="M78,156.5 h5.6 M80.8,153.7 v5.6" stroke="#d24a5a" stroke-width="0.8"/>
<text x="95" y="161.8" font-size="7.2" fill="#333" stroke="#333" stroke-width="0.12" textLength="75.4" lengthAdjust="spacingAndGlyphs">Hain - Braine-le-Château</text>
<path d="M62.5,175.85 H80.8" stroke="#b01c22" stroke-width="1.3" stroke-dasharray="5 3"/>
<path d="M62.5,172.65 L59.3,179.05 L65.7,179.05 Z" fill="#b8121c" stroke="#7a0a0e" stroke-width="0.6"/>
<path d="M80.8,172.65 L77.6,179.05 L84,179.05 Z" fill="#b8121c" stroke="#7a0a0e" stroke-width="0.6"/>
<text x="95" y="181.15" font-size="7.2" fill="#333" stroke="#333" stroke-width="0.12" textLength="64" lengthAdjust="spacingAndGlyphs">Hain - Braine l’Alleud</text>
<path d="M62.5,195.2 H80.8" stroke="#e02a30" stroke-width="1" stroke-dasharray="1 1.6"/>
<circle cx="62.5" cy="195.2" r="3"/>
<circle cx="80.8" cy="195.2" r="3"/>
<text x="95" y="200.5" font-size="7.2" fill="#333" stroke="#333" stroke-width="0.12" textLength="50.5" lengthAdjust="spacingAndGlyphs">HAIN - CLABECQ</text>
<path d="M62.5,214.55 H80.8" stroke="#444" stroke-width="0.9" stroke-dasharray="3 1.2 1 1.2"/>
<text x="95" y="219.85" font-size="7.2" fill="#333" stroke="#333" stroke-width="0.12" textLength="115.5" lengthAdjust="spacingAndGlyphs">CANAL BXL-CHARLEROI - DISQUERCQ</text>
<rect x="536.2" y="136.7" width="118.7" height="64" fill="#fff" stroke="#333" stroke-width="1.2"/>
<path d="M546.3,148.2 H561.9" stroke="#dc5464" stroke-width="1.05" stroke-dasharray="5 4"/>
<path d="M543.8,148.2 h5 M546.3,145.7 v5" stroke="#d24a5a" stroke-width="0.8"/>
<path d="M559.4,148.2 h5 M561.9,145.7 v5" stroke="#d24a5a" stroke-width="0.8"/>
<text x="576.9" y="153.5" font-size="7.2" fill="#333" stroke="#333" stroke-width="0.12" textLength="73" lengthAdjust="spacingAndGlyphs">Hain - Braine-le-Château</text>
<path d="M546.3,168.2 H561.9" stroke="#b01c22" stroke-width="1.3" stroke-dasharray="5 3"/>
<path d="M546.3,165 L543.1,171.4 L549.5,171.4 Z" fill="#b8121c" stroke="#7a0a0e" stroke-width="0.6"/>
<path d="M561.9,165 L558.7,171.4 L565.1,171.4 Z" fill="#b8121c" stroke="#7a0a0e" stroke-width="0.6"/>
<text x="576.9" y="173.5" font-size="7.2" fill="#333" stroke="#333" stroke-width="0.12" textLength="62.2" lengthAdjust="spacingAndGlyphs">Hain - Braine l’Alleud</text>
<path d="M546.3,188.2 H561.9" stroke="#e02a30" stroke-width="1" stroke-dasharray="1 1.6"/>
<circle cx="546.3" cy="188.2" r="2.7"/>
<circle cx="561.9" cy="188.2" r="2.7"/>
<text x="576.9" y="193.5" font-size="7.2" fill="#333" stroke="#333" stroke-width="0.12" textLength="48.7" lengthAdjust="spacingAndGlyphs">HAIN - CLABECQ</text>
</svg>
</body></html>
